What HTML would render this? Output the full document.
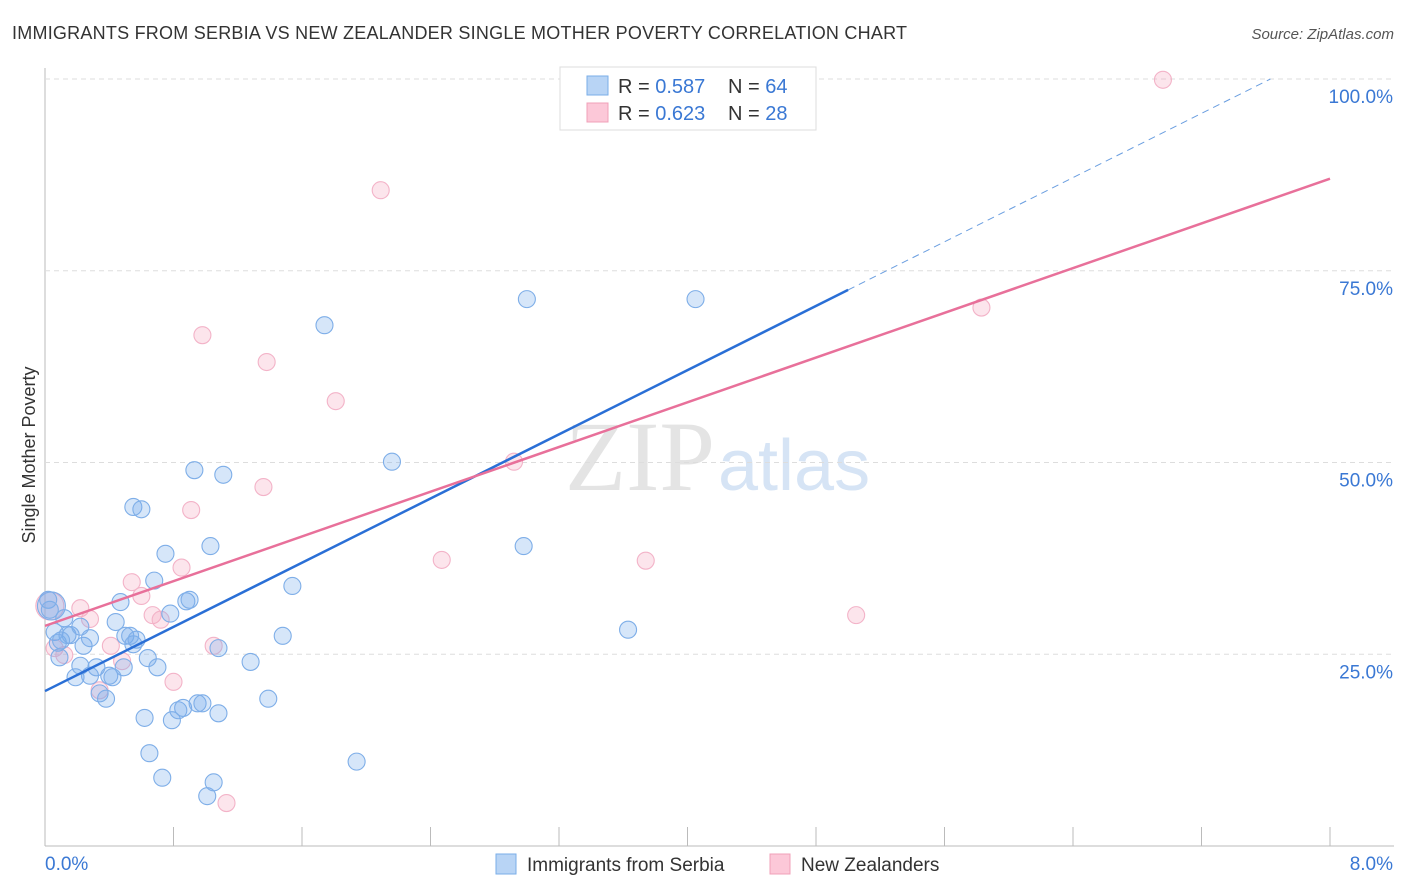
<!DOCTYPE html>
<html><head><meta charset="utf-8"><style>
body{margin:0;background:#fff;font-family:"Liberation Sans",sans-serif;}
svg{display:block}
</style></head><body>
<svg id="chart" width="1406" height="892">
<text x="12" y="39" font-size="18" fill="#333" textLength="895">IMMIGRANTS FROM SERBIA VS NEW ZEALANDER SINGLE MOTHER POVERTY CORRELATION CHART</text>
<text x="1394" y="39" font-size="15" fill="#555" text-anchor="end" font-style="italic">Source: ZipAtlas.com</text>
<text x="35" y="455" font-size="18" fill="#333" text-anchor="middle" transform="rotate(-90 35 455)">Single Mother Poverty</text>
<text x="715" y="490" font-size="100" fill="#e4e4e4" text-anchor="end" font-family="Liberation Serif">ZIP</text>
<text x="718" y="490" font-size="72" fill="#d6e4f5">atlas</text>
<g id="grid"></g><g id="pts"></g><g id="lines"></g>
<g>
<rect x="560" y="67" width="256" height="63" fill="#fff" stroke="#ddd"/>
<rect x="587" y="76" width="21" height="19" fill="#b8d4f5" stroke="#7aaee8"/>
<rect x="587" y="103" width="21" height="19" fill="#fcc8d8" stroke="#f0a0b8"/>
<text x="618" y="93" font-size="20" fill="#333">R = <tspan fill="#3a78d4">0.587</tspan></text>
<text x="728" y="93" font-size="20" fill="#333">N = <tspan fill="#3a78d4">64</tspan></text>
<text x="618" y="120" font-size="20" fill="#333">R = <tspan fill="#3a78d4">0.623</tspan></text>
<text x="728" y="120" font-size="20" fill="#333">N = <tspan fill="#3a78d4">28</tspan></text>
</g>
<g>
<rect x="496" y="854" width="20" height="20" fill="#b8d4f5" stroke="#7aaee8"/>
<text x="527" y="871" font-size="19" fill="#333">Immigrants from Serbia</text>
<rect x="770" y="854" width="20" height="20" fill="#fcc8d8" stroke="#f0a0b8"/>
<text x="801" y="871" font-size="19" fill="#333">New Zealanders</text>
</g>
</svg>
<script>
const xTicks=[0,0.8,1.6,2.4,3.2,4,4.8,5.6,6.4,7.2,8];
const yTicks=[25,50,75,100];
const yTickLabels=["25.0%","50.0%","75.0%","100.0%"];
const xEndLabels=["0.0%","8.0%"];
const serbiaX=[0.04,0.06,0.08,0.09,0.14,0.16,0.19,0.22,0.24,0.28,0.28,0.32,0.34,0.38,0.40,0.42,0.44,0.47,0.49,0.50,0.53,0.55,0.57,0.62,0.64,0.65,0.68,0.70,0.73,0.75,0.78,0.79,0.83,0.86,0.88,0.90,0.93,0.95,0.98,1.01,1.03,1.05,1.08,1.08,1.11,1.28,1.39,1.48,1.54,1.74,1.94,2.16,2.98,3.00,3.63,4.05,0.55,0.60,0.12,0.22,0.02,0.03,3.57,0.10];
const serbiaY=[31.3,27.9,26.5,24.6,27.5,27.5,22.0,23.5,26.1,27.1,22.2,23.3,19.9,19.2,22.2,22.0,29.2,31.8,23.3,27.4,27.4,26.3,26.9,16.7,24.5,12.1,34.6,23.3,8.9,38.1,30.3,16.4,17.7,18.0,31.9,32.1,49.0,18.6,18.6,6.5,39.1,8.3,17.3,25.8,48.4,24.0,19.2,27.4,33.9,67.9,11.0,50.1,39.1,71.3,28.2,71.3,44.2,43.9,29.7,28.6,32.1,30.8,100.4,26.8];
const nzX=[0.03,0.06,0.12,0.22,0.28,0.34,0.41,0.48,0.54,0.60,0.67,0.72,0.80,0.85,0.91,0.98,1.05,1.13,1.36,1.38,1.81,2.09,2.47,2.92,3.74,5.05,5.83,6.96];
const nzY=[31.3,25.8,24.9,31.0,29.6,20.3,26.1,24.1,34.4,32.6,30.1,29.5,21.4,36.3,43.8,66.6,26.1,5.6,46.8,63.1,58.0,85.5,37.3,50.1,37.2,30.1,70.2,99.9];
const serbiaTrend=[20.2,72.5,5.0,100];
const nzTrend=[28.7,87.0];
const NS="http://www.w3.org/2000/svg";
const X0=45,X1=1330,Y0=846,Y100=79;
const sx=v=>X0+(X1-X0)*v/8, sy=v=>Y0-(Y0-Y100)*v/100;
function mk(t,a,p){const e=document.createElementNS(NS,t);for(const k in a)e.setAttribute(k,a[k]);p.appendChild(e);return e;}
const grid=document.getElementById('grid');
const ax=mk('line',{x1:X0,y1:68,x2:X0,y2:Y0,stroke:'#bbb'},grid);


const bx=mk('line',{x1:X0,y1:Y0,x2:1394,y2:Y0,stroke:'#bbb'},grid);


yTicks.forEach((t,i)=>{
 const g=mk('line',{x1:X0,y1:sy(t),x2:1394,y2:sy(t),stroke:'#ddd','stroke-dasharray':'5,4'},grid);
 
 
 const l=mk('text',{x:1393,y:sy(t)+24,'font-size':19,fill:'#3a78d4','text-anchor':'end'},grid);
 l.textContent=yTickLabels[i];
 
 
});
xTicks.forEach(t=>{
 const k=mk('line',{x1:sx(t),y1:827,x2:sx(t),y2:Y0,stroke:'#bbb'},grid);
 
 
});
[[0,'start',45],[8,'end',1393]].forEach((d,i)=>{
 const l=mk('text',{x:d[2],y:870,'font-size':19,fill:'#3a78d4','text-anchor':d[1]},grid);
 l.textContent=xEndLabels[i];
 
 
});
const pts=document.getElementById('pts');
function dots(xs,ys,fill,stroke,name){
 xs.forEach((x,i)=>{
  const r=(x<0.05&&Math.abs(ys[i]-31.3)<0.5)?14:8.5;
  const c=mk('circle',{cx:sx(x),cy:sy(ys[i]),r:r,fill:fill,stroke:stroke,'stroke-width':1.1},pts);
  
  
 });
}
dots(nzX,nzY,'rgba(246,160,188,0.28)','#f3b3c8','point-nz');
dots(serbiaX,serbiaY,'rgba(120,172,235,0.3)','#7eaee8','point-serbia');
const L=document.getElementById('lines');
const s1=mk('line',{x1:sx(0),y1:sy(serbiaTrend[0]),x2:sx(serbiaTrend[2]),y2:sy(serbiaTrend[1]),stroke:'#2a6fd6','stroke-width':2.5},L);


const slope=(serbiaTrend[1]-serbiaTrend[0])/serbiaTrend[2];
const xe=(serbiaTrend[3]-serbiaTrend[0])/slope;
const s2=mk('line',{x1:sx(serbiaTrend[2]),y1:sy(serbiaTrend[1]),x2:sx(xe),y2:sy(serbiaTrend[3]),stroke:'#6a9ee0','stroke-width':1,'stroke-dasharray':'7,5'},L);


const p1=mk('line',{x1:sx(0),y1:sy(nzTrend[0]),x2:sx(8),y2:sy(nzTrend[1]),stroke:'#e8709a','stroke-width':2.5},L);


</script>
</body></html>
